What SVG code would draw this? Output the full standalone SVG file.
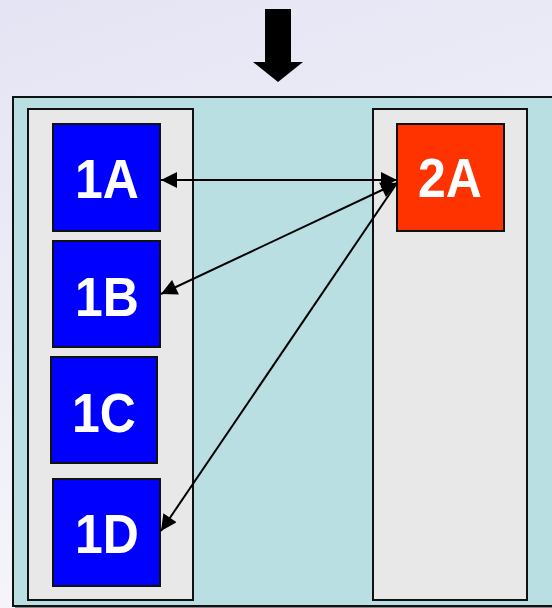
<svg xmlns="http://www.w3.org/2000/svg" width="552" height="608" viewBox="0 0 552 608">
<defs>
<linearGradient id="bg" x1="0" y1="0" x2="0.3" y2="1">
<stop offset="0" stop-color="#E4E4F4"/>
<stop offset="1" stop-color="#F6F6FB"/>
</linearGradient>
<marker id="ah" viewBox="0 0 10 10" refX="10" refY="5" markerWidth="18" markerHeight="16" markerUnits="userSpaceOnUse" orient="auto-start-reverse">
<path d="M0,0 L10,5 L0,10 Z" fill="#000"/>
</marker>
<style>
.panel{fill:#E8E8E8;stroke:#111;stroke-width:2}
.blue{fill:#0000FF;stroke:#111;stroke-width:2}
.red{fill:#FF3300;stroke:#111;stroke-width:2}
.lbl{font-family:"Liberation Sans",Arial,sans-serif;font-weight:bold;font-size:50px;fill:#fff;text-anchor:middle}
.con{stroke:#000;stroke-width:2;fill:none}
</style>
</defs>
<rect width="552" height="608" fill="url(#bg)"/>
<g id="topArrow">
<polygon points="265,9 291,9 291,62 303,62 278,82 253,62 265,62" fill="#000"/>
</g>
<g id="outer">
<rect x="15" y="99" width="545" height="510" fill="#888"/>
<rect x="13" y="97" width="545" height="509" fill="#B9DFE2" stroke="#111" stroke-width="2"/>
</g>
<g id="leftPanel"><rect class="panel" x="28" y="109" width="165" height="491"/></g>
<g id="rightPanel"><rect class="panel" x="373" y="109" width="154" height="491"/></g>
<g id="n1A"><rect class="blue" x="53" y="124" width="107" height="107"/><text class="lbl" transform="translate(107,198) scale(1,1.12)">1A</text></g>
<g id="n1B"><rect class="blue" x="53" y="241" width="107" height="106"/><text class="lbl" transform="translate(107,316) scale(1,1.12)">1B</text></g>
<g id="n1C"><rect class="blue" x="51" y="357" width="106" height="106"/><text class="lbl" transform="translate(104,432) scale(1,1.12)">1C</text></g>
<g id="n1D"><rect class="blue" x="53" y="479" width="107" height="107"/><text class="lbl" transform="translate(107,553) scale(1,1.12)">1D</text></g>
<g id="n2A"><rect class="red" x="397" y="124" width="107" height="107"/><text class="lbl" transform="translate(450,197) scale(1,1.12)">2A</text></g>
<g id="connectors">
<line class="con" x1="161" y1="180" x2="397" y2="180" marker-start="url(#ah)" marker-end="url(#ah)"/>
<line class="con" x1="161" y1="294" x2="397" y2="183" marker-start="url(#ah)" marker-end="url(#ah)"/>
<line class="con" x1="161" y1="531" x2="397" y2="183" marker-start="url(#ah)"/>
</g>
</svg>
